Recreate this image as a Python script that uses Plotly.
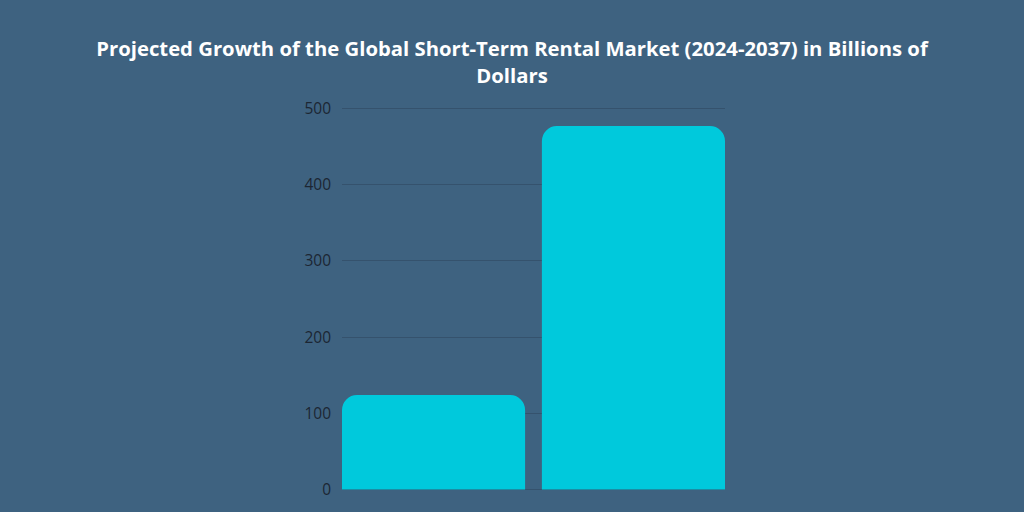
import plotly.graph_objects as go

years = ["2024", "2037"]
market_billion = [124, 477]
y_ticks = [0, 100, 200, 300, 400, 500]

GAP = 0.084
half = (1 - GAP) / 2

fig = go.Figure(go.Bar(
    x=years, y=market_billion,
    marker=dict(color="#00c9dc", line=dict(width=0)),
    hoverinfo="x+y",
))

fig.update_layout(
    width=1024, height=512,
    paper_bgcolor="#3e6280", plot_bgcolor="#3e6280",
    margin=dict(l=342, r=299, t=107, b=18),
    bargap=GAP,
    barcornerradius=15,
    showlegend=False,
    title=dict(
        text="Projected Growth of the Global Short-Term Rental Market (2024-2037) in Billions of<br>Dollars",
        x=0.5, xanchor="center", xref="container",
        y=0.89, yanchor="middle", yref="container",
        font=dict(family="Open Sans", size=20.3, color="white", weight="bold"),
    ),
    font=dict(family="Open Sans"),
)

fig.update_xaxes(range=[-half, 1 + half], showticklabels=False, showgrid=False,
                 zeroline=False, showline=False, ticks="")
fig.update_yaxes(
    range=[-2, 502], tickvals=y_ticks,
    showgrid=True, gridcolor="#35526d", gridwidth=1,
    zeroline=False, showline=False,
    tickfont=dict(family="Open Sans", size=15.5, color="#1c2633"),
    ticklabelstandoff=10,
)

fig.write_html("out.html")
